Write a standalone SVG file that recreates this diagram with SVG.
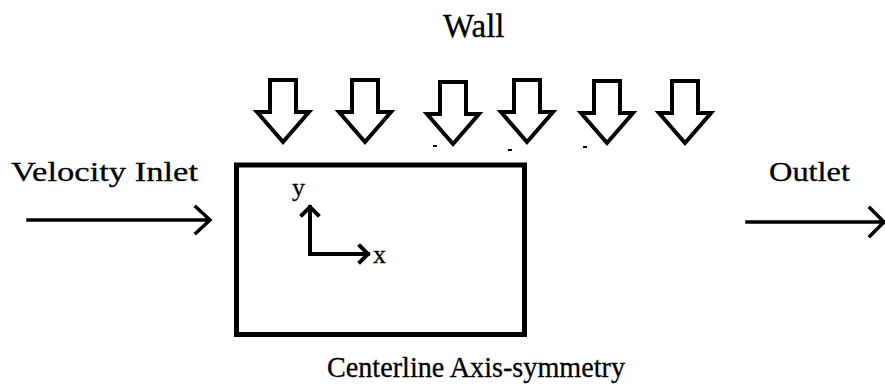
<svg xmlns="http://www.w3.org/2000/svg" width="885" height="387" viewBox="0 0 885 387">
<style>
text{font-family:"Liberation Serif","Times New Roman",serif;fill:#000;stroke:#000;stroke-width:0.3}
.ln{fill:none;stroke:#000;stroke-linecap:square;stroke-linejoin:miter}
.dn{fill:#fff;stroke:#000;stroke-width:4;stroke-linejoin:miter}
</style>
<defs>
<path id="down" d="M-13,0 H13 V32 H26 L0,62 L-26,32 H-13 Z"/>
</defs>
<rect width="885" height="387" fill="#fff"/>
<g id="wall-label"><text x="443" y="37" font-size="33">Wall</text></g>
<g id="wall-arrows">
<use href="#down" class="dn" x="283" y="80"/>
<use href="#down" class="dn" x="365" y="80"/>
<use href="#down" class="dn" x="453" y="82"/>
<use href="#down" class="dn" x="527" y="80"/>
<use href="#down" class="dn" x="607" y="81"/>
<use href="#down" class="dn" x="685" y="81"/>
<rect x="433" y="145" width="4" height="2" fill="#000"/>
<rect x="508" y="149" width="4" height="2" fill="#000"/>
<rect x="583" y="146" width="4" height="2" fill="#000"/>
</g>
<g id="domain"><rect x="236.5" y="165" width="288" height="169.5" class="ln" stroke-width="5"/></g>
<g id="inlet"><text x="11" y="181" font-size="28" textLength="187" lengthAdjust="spacingAndGlyphs">Velocity Inlet</text></g>
<g id="outlet"><text x="769" y="181" font-size="27" textLength="81" lengthAdjust="spacingAndGlyphs">Outlet</text></g>
<g id="axis-label"><text x="327" y="377" font-size="29" textLength="298" lengthAdjust="spacingAndGlyphs">Centerline Axis-symmetry</text></g>
<g id="axes">
<text x="292" y="196" font-size="26">y</text>
<text x="373" y="263" font-size="26">x</text>
</g>
<g id="connectors">
<path class="ln" stroke-width="3.5" d="M28,220 H209 M196,207 L210,220 L196,233"/>
<path class="ln" stroke-width="3.5" d="M747,222 H882 M870,208 L884,222 L870,236"/>
<path class="ln" stroke-width="4" d="M310,254 V207 M302,215 L310,207 L318,215"/>
<path class="ln" stroke-width="4" d="M310,254 H368 M360,246 L368,254 L360,262"/>
</g>
</svg>
